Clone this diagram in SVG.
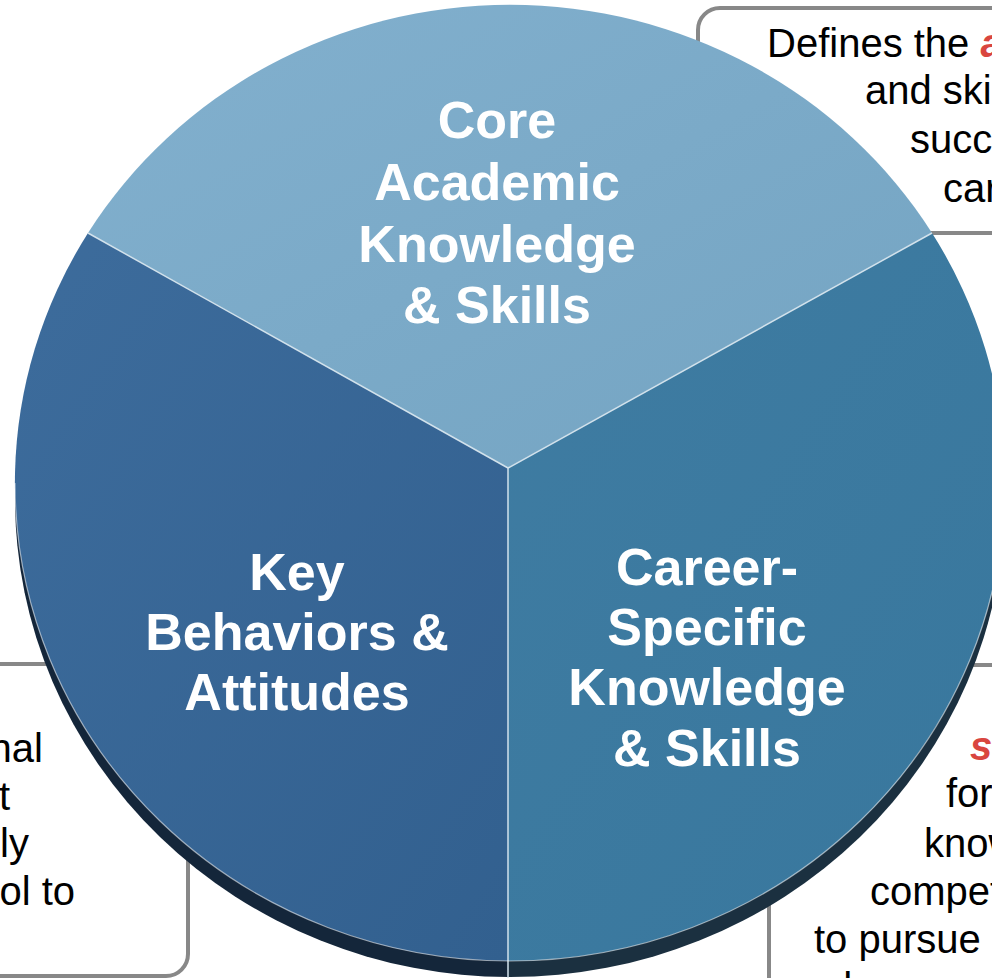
<svg xmlns="http://www.w3.org/2000/svg" width="992" height="978" viewBox="0 0 992 978">
  <style>
    .box { fill: #ffffff; stroke: #888888; stroke-width: 4; }
    .note { font-family: "Liberation Sans", Arial, sans-serif; font-size: 40px; fill: #000000; }
    .hl { font-weight: bold; font-style: italic; fill: #d9463f; }
    .label { font-family: "Liberation Sans", Arial, sans-serif; font-size: 52px; font-weight: bold; fill: #ffffff; text-anchor: middle; }
    .seam { stroke: #d2e2ec; stroke-width: 1.5; fill: none; }
  </style>
  <defs>
    <linearGradient id="gTop" x1="0" y1="0" x2="1" y2="1">
      <stop offset="0" stop-color="#82b0ce"/>
      <stop offset="1" stop-color="#74a4c2"/>
    </linearGradient>
    <linearGradient id="gLeft" x1="0" y1="0" x2="1" y2="1">
      <stop offset="0" stop-color="#3d6c9c"/>
      <stop offset="1" stop-color="#32608f"/>
    </linearGradient>
    <linearGradient id="gRight" x1="0" y1="0" x2="1" y2="1">
      <stop offset="0" stop-color="#3f7ca2"/>
      <stop offset="1" stop-color="#38779d"/>
    </linearGradient>
    <clipPath id="cLeft"><rect x="0" y="0" width="508" height="978"/></clipPath>
    <clipPath id="cRight"><rect x="508" y="0" width="600" height="978"/></clipPath>
  </defs>

  <!-- callout boxes (behind the pie) -->
  <g id="note-academic">
    <rect class="box" x="698" y="8" width="400" height="225" rx="22"/>
    <text class="note" x="767" y="57">Defines the <tspan class="hl">a</tspan></text>
    <text class="note" x="865" y="104">and ski</text>
    <text class="note" x="910" y="153">succ</text>
    <text class="note" x="943" y="202">car</text>
  </g>
  <g id="note-behaviors">
    <rect class="box" x="-60" y="664" width="248" height="312" rx="22"/>
    <text class="note" x="43" y="762" text-anchor="end">nal</text>
    <text class="note" x="10" y="810" text-anchor="end">t</text>
    <text class="note" x="29" y="857" text-anchor="end">ly</text>
    <text class="note" x="75" y="905" text-anchor="end">ol to</text>
  </g>
  <g id="note-career">
    <rect class="box" x="769" y="665" width="300" height="340" rx="22"/>
    <text class="note hl" x="970" y="760">s</text>
    <text class="note" x="946" y="807">for</text>
    <text class="note" x="924" y="857">know</text>
    <text class="note" x="870" y="905">compet</text>
    <text class="note" x="814" y="953">to pursue</text>
    <text class="note" x="830" y="1001">d</text>
  </g>

  <!-- pie side wall -->
  <g id="pie-side">
    <ellipse cx="510" cy="499" rx="495" ry="478" fill="#14263a" clip-path="url(#cLeft)"/>
    <ellipse cx="510" cy="499" rx="495" ry="478" fill="#1b3040" clip-path="url(#cRight)"/>
  </g>

  <g id="sector-core">
    <path d="M508 468 L88 233 A495 478 0 0 1 932 233 Z" fill="url(#gTop)"/>
    <text class="label" x="497" y="138">Core</text>
    <text class="label" x="497" y="200">Academic</text>
    <text class="label" x="497" y="262">Knowledge</text>
    <text class="label" x="497" y="323">&amp; Skills</text>
  </g>
  <g id="sector-behaviors">
    <path d="M508 468 L508 961 A495 478 0 0 1 88 233 Z" fill="url(#gLeft)"/>
    <text class="label" x="297" y="590">Key</text>
    <text class="label" x="297" y="650">Behaviors &amp;</text>
    <text class="label" x="297" y="710">Attitudes</text>
  </g>
  <g id="sector-career">
    <path d="M508 468 L932 233 A495 478 0 0 1 508 961 Z" fill="url(#gRight)"/>
    <text class="label" x="707" y="585">Career-</text>
    <text class="label" x="707" y="645">Specific</text>
    <text class="label" x="707" y="705">Knowledge</text>
    <text class="label" x="707" y="766">&amp; Skills</text>
  </g>

  <g id="connectors">
    <path class="seam" d="M508 468 L88 233"/>
    <path class="seam" d="M508 468 L932 233"/>
    <path class="seam" d="M508 468 L508 978"/>
    <path d="M15 483 A495 478 0 0 0 1005 483" fill="none" stroke="#ffffff" stroke-opacity="0.55" stroke-width="1.2"/>
  </g>
</svg>
